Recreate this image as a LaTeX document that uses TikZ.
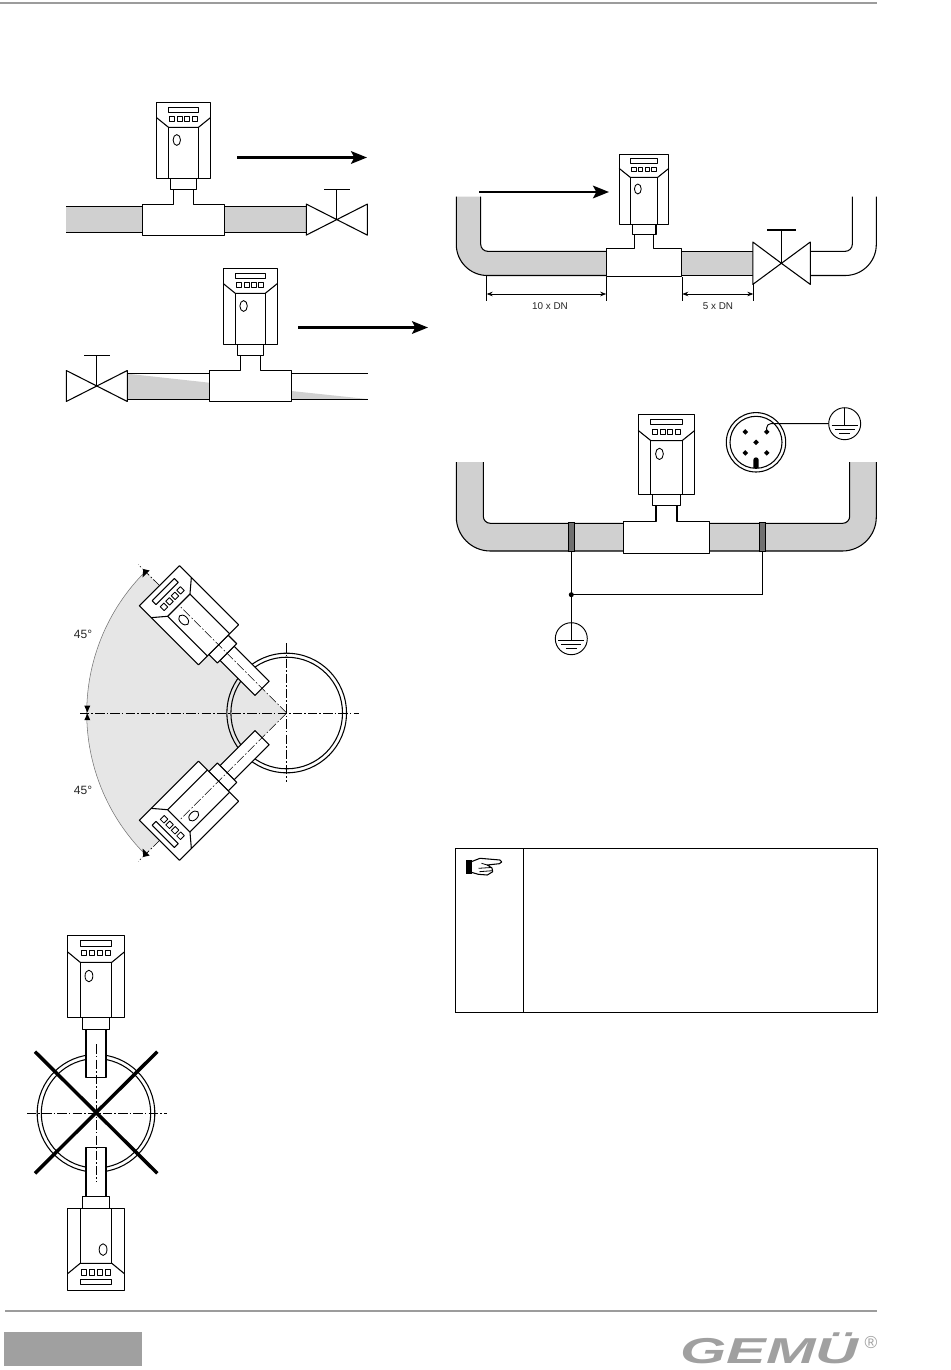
\documentclass[tikz,border=0pt]{standalone}
\usepackage{fontspec}
\setmainfont{Liberation Sans}
\usetikzlibrary{arrows.meta}
\definecolor{pipegray}{HTML}{D0D0D0}
\definecolor{sectorgray}{HTML}{E6E6E6}
\definecolor{bandgray}{HTML}{707070}
\definecolor{rulegray}{HTML}{9C9C9C}
\definecolor{loggray}{HTML}{A0A0A0}
\tikzset{
  x=0.75pt,y=-0.75pt,
  ln/.style={draw=black,line width=0.8pt,line join=round},
  thin line/.style={draw=black,line width=0.5pt},
  axisline/.style={draw=black,line width=0.45pt,dash pattern=on 7pt off 1.6pt on 1.2pt off 1.6pt},
  flow/.style={draw=black,line width=1.7pt,-{Stealth[length=12pt,width=9.5pt,inset=2.5pt]}},
  dimline/.style={draw=black,line width=0.5pt,{Stealth[length=4.5pt,width=3.4pt]}-{Stealth[length=4.5pt,width=3.4pt]}},
  lbl/.style={font=\fontsize{7.4}{9}\selectfont,inner sep=0pt,text=black!85},
  anglbl/.style={font=\fontsize{9}{11}\selectfont,inner sep=0pt,text=black!85},
  sensor/.pic={
    \draw[ln,fill=white] (-13,76) rectangle (13,87);
    \draw[ln,fill=white] (-27,0) rectangle (27,76);
    \draw[ln] (-27,15.3) -- (-15,25) -- (15,25) -- (27,15.3);
    \draw[ln] (-15,25) -- (-15,76) (15,25) -- (15,76);
    \draw[ln] (-15,5) rectangle (15,10);
    \foreach \bx in {-13.6,-6.2,1.2,8.6}
      \draw[ln,line width=0.65pt] (\bx,14) rectangle ++(4.9,5);
    \draw[ln,line width=0.65pt] (-6.7,37.7) ellipse [x radius=3.7,y radius=5.4];
  },
  tee/.pic={
    \draw[ln,fill=white] (-41,102) -- (-10,102) -- (-10,87) -- (10,87) -- (10,102) -- (41,102) -- (41,133) -- (-41,133) -- cycle;
  },
  probe/.pic={
    \draw[ln,fill=white] (-9.5,87) rectangle (9.5,132);
  },
  valve/.pic={
    \draw[ln,fill=white] (0,0) -- (-30.5,-15.5) -- (-30.5,15.5) -- cycle;
    \draw[ln,fill=white] (0,0) -- (30.5,-15.5) -- (30.5,15.5) -- cycle;
    \draw[ln] (0,0) -- (0,-30.5) (-12.7,-30.5) -- (12.7,-30.5);
  },
  earth/.pic={
    \draw[thin line,line width=0.7pt,fill=white] (0,0) circle [radius=16];
    \draw[thin line,line width=0.7pt] (0,-16) -- (0,2) (-13,2) -- (13,2) (-10,6) -- (10,6) (-5.5,10) -- (5.5,10);
  }
}
\begin{document}
\begin{tikzpicture}
\useasboundingbox (0,0) rectangle (950,1370);
\fill[white] (0,0) rectangle (950,1370);
% header and footer
\draw[rulegray,line width=1.2pt] (0,3) -- (877,3);
\draw[rulegray,line width=1.2pt] (5,1311) -- (877,1311);
\fill[loggray] (4,1332) rectangle (142,1366);
\node[anchor=base west,inner sep=0pt,text=loggray,xscale=1.65,font=\fontsize{27}{30}\selectfont\bfseries\itshape] (logo) at (680,1363) {GEMÜ};
\node[inner sep=0pt,text=loggray,font=\fontsize{13}{14}\selectfont] (reg) at (871,1342) {®};

% ---------- top-left installation
\fill[pipegray] (66,206.3) rectangle (306,232.7);
\draw[ln] (66,206.3) -- (306,206.3) (66,232.7) -- (306,232.7);
\pic at (183.5,102.3) {tee};
\pic at (183.5,102.3) {sensor};
\pic at (336.8,219.6) {valve};
\coordinate (a1s) at (237,157.5); \coordinate (a1e) at (367,157.5);
\draw[flow] (a1s) -- (a1e);

% ---------- second installation
\fill[pipegray] (127.3,373.7) -- (209.3,382.7) -- (209.3,399.3) -- (127.3,399.3) -- cycle;
\fill[pipegray] (291.3,391) -- (367,399) -- (291.3,399.3) -- cycle;
\draw[ln] (127.3,373.7) -- (367.5,373.7) (127.3,399.3) -- (367.5,399.3);
\pic at (250.3,268.3) {tee};
\pic at (250.3,268.3) {sensor};
\pic at (96.8,386) {valve};
\coordinate (a2s) at (298,327.5); \coordinate (a2e) at (428,327.5);
\draw[flow] (a2s) -- (a2e);

% ---------- inlet / outlet distances
\fill[pipegray] (456.3,196.7) -- (456.3,244.5) arc[start angle=180,end angle=90,radius=31] -- (606.3,275.5) -- (606.3,251.3) -- (487.7,251.3) arc[start angle=90,end angle=180,radius=7] -- (480.7,196.7) -- cycle;
\fill[pipegray] (681.7,251.3) rectangle (752.7,275.5);
\draw[ln] (456.3,196.7) -- (456.3,244.5) arc[start angle=180,end angle=90,radius=31] -- (606.3,275.5);
\draw[ln] (480.7,196.7) -- (480.7,244.3) arc[start angle=180,end angle=90,radius=7] -- (606.3,251.3);
\draw[ln] (681.7,251.3) -- (752.7,251.3) (681.7,275.5) -- (752.7,275.5);
\draw[ln] (876.3,196.7) -- (876.3,244.5) arc[start angle=0,end angle=90,radius=31] -- (810.3,275.5);
\draw[ln] (852.3,196.7) -- (852.3,244.3) arc[start angle=0,end angle=90,radius=7] -- (810.3,251.3);
\pic[scale=0.92] at (644,154.3) {tee};
\pic[scale=0.92] at (644,154.3) {sensor};
\draw[ln,fill=white] (781.4,263.3) -- (752.8,242) -- (752.8,284.4) -- cycle;
\draw[ln,fill=white] (781.4,263.3) -- (810.3,242) -- (810.3,284.4) -- cycle;
\draw[ln] (781.4,263.3) -- (781.4,230) (767,230) -- (795.7,230);
\coordinate (a3s) at (479,192); \coordinate (a3e) at (609,192);
\draw[flow] (a3s) -- (a3e);
\draw[thin line] (486.7,276) -- (486.7,300.7) (606.2,277) -- (606.2,300.7) (682.3,277) -- (682.3,300.7) (753.3,284) -- (753.3,300.7);
\coordinate (d1) at (486.7,294); \coordinate (d2) at (606.2,294); \coordinate (d3) at (682.3,294); \coordinate (d4) at (753.3,294);
\draw[dimline] (d1) -- (d2);
\draw[dimline] (d3) -- (d4);
\node[lbl] (dn10) at (550,306.5) {10 x DN};
\node[lbl] (dn5) at (718,306.5) {5 x DN};

% ---------- grounding
\fill[pipegray] (456.3,462) -- (456.3,517) arc[start angle=180,end angle=90,radius=34] -- (842.3,551) arc[start angle=90,end angle=0,radius=34] -- (876.3,462) -- (849.7,462) -- (849.7,516.3) arc[start angle=0,end angle=90,radius=7] -- (490.3,523.3) arc[start angle=90,end angle=180,radius=7] -- (483.3,462) -- cycle;
\draw[ln] (456.3,462) -- (456.3,517) arc[start angle=180,end angle=90,radius=34] -- (842.3,551) arc[start angle=90,end angle=0,radius=34] -- (876.3,462);
\draw[ln] (483.3,462) -- (483.3,516.3) arc[start angle=180,end angle=90,radius=7] -- (842.7,523.3) arc[start angle=90,end angle=0,radius=7] -- (849.7,462);
\pic[scale=1.05] at (666.5,414.3) {tee};
\pic[scale=1.05] at (666.5,414.3) {sensor};
\draw[fill=bandgray,draw=black,line width=0.5pt] (568.3,522) rectangle (574.7,551.7);
\draw[fill=bandgray,draw=black,line width=0.5pt] (759.3,522) rectangle (765.7,551.7);
\pic (g1) at (571.3,638.7) {earth};
\coordinate (jn) at (571.3,594.7);
\draw[thin line,line width=0.7pt] (571.3,551.7) -- (jn) -- (571.3,622.7);
\draw[thin line,line width=0.7pt] (jn) -- (762.4,594.7) -- (762.4,551.7);
\fill (jn) circle [radius=2.5];
% connector
\draw[ln] (756,442.3) circle [radius=29.7];
\draw[ln] (756,442.3) circle [radius=26];
\foreach \px/\py in {-10.7/-10.4,10.7/-10.4,0/0,-10.7/10.6,10.7/10.6}
  \fill (756+\px,442.3+\py-2.8) -- (756+\px+2.8,442.3+\py) -- (756+\px,442.3+\py+2.8) -- (756+\px-2.8,442.3+\py) -- cycle;
\fill (753.3,468) -- (753.3,460) arc[start angle=180,end angle=360,radius=2.7] -- (758.7,468) -- cycle;
\pic (g2) at (844.7,423.7) {earth};
\draw[thin line,line width=0.7pt,rounded corners=3pt] (766.7,432) -- (766.7,423.7) -- (828.7,423.7);

% ---------- 45 degree mounting
\fill[sectorgray] (286.7,713) -- (145.3,571.6) arc[start angle=-135,end angle=-225,radius=200] -- cycle;
\draw[black!55,line width=0.4pt] (145.3,571.6) arc[start angle=-135,end angle=-225,radius=200];
\draw[ln] (286.7,713) circle [radius=59.8];
\draw[ln] (286.7,713) circle [radius=55.8];
\pic[rotate=45,xscale=1.05,yscale=1.1] at (159.4,585.7) {probe};
\pic[rotate=45,xscale=1.05,yscale=1.1] at (159.4,585.7) {sensor};
\pic[rotate=135,xscale=1.05,yscale=1.1] at (159.4,840.3) {probe};
\pic[rotate=135,xscale=1.05,yscale=1.1] at (159.4,840.3) {sensor};
\draw[axisline] (80,713) -- (359,713);
\draw[axisline] (286.7,643.3) -- (286.7,781.7);
\draw[axisline] (286.7,713) -- (180.5,606.8) (160,586) -- (138.3,564.6);
\draw[axisline] (286.7,713) -- (180.5,819.2) (160,840) -- (138.3,861.4);
\fill (143.3,569) -- (149.6,570.5) -- (142.5,577.5) -- cycle;
\fill (143.3,857) -- (149.6,855.5) -- (142.5,848.5) -- cycle;
\fill (87.3,712.4) -- (84.3,705.6) -- (90.3,705.6) -- cycle;
\fill (87.3,713.6) -- (84.3,720.2) -- (90.3,720.2) -- cycle;
\node[anglbl] (a45a) at (83,634) {45°};
\node[anglbl] (a45b) at (83,790) {45°};

% ---------- wrong positions
\draw[ln] (96,1113.3) circle [radius=58.8];
\draw[ln] (96,1113.3) circle [radius=54.7];
\pic[xscale=1.055,yscale=1.08] at (96,935.3) {probe};
\pic[xscale=1.055,yscale=1.08] at (96,935.3) {sensor};
\pic[rotate=180,xscale=1.055,yscale=1.08] at (96,1290.3) {probe};
\pic[rotate=180,xscale=1.055,yscale=1.08] at (96,1290.3) {sensor};
\draw[axisline] (27,1113.3) -- (167,1113.3);
\draw[axisline] (96,1044.3) -- (96,1181.7);
\draw[black,line width=2.6pt] (35,1051.7) -- (157.3,1173.3);
\draw[black,line width=2.6pt] (35,1173.3) -- (157.3,1051.7);

% ---------- note box
\draw[black,line width=0.7pt] (455.5,848.5) rectangle (877.5,1012.5);
\draw[black,line width=0.7pt] (523.5,848.5) -- (523.5,1012.5);
\fill (466,860) rectangle (471.5,873.5);
\draw[black,line width=0.8pt,line join=round,fill=white] (471.3,861.7) -- (480,858.3) -- (500,860) -- (501.7,862) -- (499.3,863.7) -- (487.3,865) -- (492,868) -- (492.7,871.7) -- (487.3,875) -- (478.3,874.3) -- (471.3,872.3) -- cycle;
\draw[black,line width=0.6pt] (481.5,863.3) -- (487.3,865) (478.5,868.3) -- (491,867.5) (479.3,871.7) -- (492,870.7);
\end{tikzpicture}
\end{document}
